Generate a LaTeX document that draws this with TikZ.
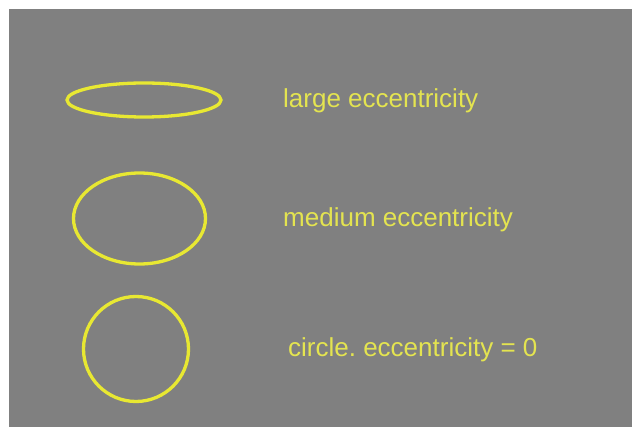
\documentclass[tikz,border=0pt]{standalone}
\usepackage{fontspec}
\setmainfont{Liberation Sans}
\frenchspacing
\definecolor{bggray}{RGB}{128,128,128}
\definecolor{curveyellow}{RGB}{232,232,50}
\definecolor{textyellow}{RGB}{228,228,80}
\begin{document}
\begin{tikzpicture}[x=1pt,y=-1pt,
  shapeline/.style={draw=curveyellow,line width=3.3pt},
  label/.style={anchor=base west,inner sep=0pt,text=textyellow,font=\fontsize{26}{30}\selectfont}]
\useasboundingbox (0,0) rectangle (632,427);
\fill[white] (0,0) rectangle (632,427);
\fill[bggray] (9,9) rectangle (632,427);
\draw[shapeline] (144,100) ellipse [x radius=77, y radius=17];
\draw[shapeline] (139.5,218.5) ellipse [x radius=66, y radius=45.5];
\draw[shapeline] (136,349) circle [radius=52.5];
\node[label] (t1) at (283,108) {large eccentricity};
\node[label] (t2) at (283,227) {medium eccentricity};
\node[label] (t3) at (288,357) {circle.\ eccentricity = 0};
\end{tikzpicture}
\end{document}
